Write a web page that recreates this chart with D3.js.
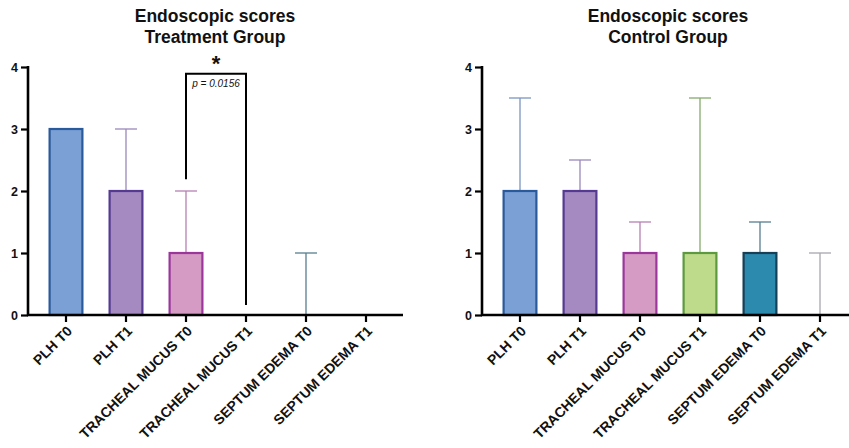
<!DOCTYPE html>
<html>
<head>
<meta charset="utf-8">
<script src="https://cdn.jsdelivr.net/npm/d3@7/dist/d3.min.js"></script>
<style>
  body { margin: 0; background: #fff; }
  text { font-family: Arial, "Liberation Sans", sans-serif; }
</style>
</head>
<body>
<div id="chart"></div>
<script>
// Categories shared by both panels
const categories = ["PLH T0", "PLH T1", "TRACHEAL MUCUS T0", "TRACHEAL MUCUS T1", "SEPTUM EDEMA T0", "SEPTUM EDEMA T1"];
const yTicks = [0, 1, 2, 3, 4];

// Median bar heights and upper error limits
const treatmentValues = [3, 2, 1, 0, 0, 0];
const treatmentUpper = [3, 3, 2, 0, 1, 0];
const controlValues = [2, 2, 1, 1, 1, 0];
const controlUpper = [3.5, 2.5, 1.5, 3.5, 1.5, 1];

// Significance bracket (treatment panel)
const bracket = { from: 2, to: 3, top: 3.89, leftEnd: 2.19, rightEnd: 0.16, label: "p = 0.0156", star: "*" };

// Colours
const fills = ["#7ba0d5", "#a48ac1", "#d59bc5", "#bddb8a", "#2c8aae", "#cccccc"];
const strokes = ["#2b5a9b", "#553a92", "#9b379b", "#5d9a3f", "#173f56", "#999999"];
const errColors = ["#7b95c2", "#9a88bc", "#b77fb4", "#86ab6c", "#557f90", "#a8a8ae"];

const W = 849, H = 448;
const svg = d3.select("#chart").append("svg").attr("width", W).attr("height", H);

function panel(opts) {
  const g = svg.append("g");
  const y = d3.scaleLinear().domain([0, 4]).range([315, 67]);
  const x = d3.scaleBand().domain(categories)
    .range([opts.axisX + 8, opts.axisX + 368]).paddingInner(0.42).paddingOuter(0.21);

  // Title
  g.selectAll(".title").data(opts.title).enter().append("text")
    .attr("x", opts.titleX).attr("y", (d, i) => 22 + i * 21)
    .attr("text-anchor", "middle").attr("font-size", 17.5).attr("font-weight", "bold")
    .attr("fill", "#111").text(d => d);

  // Error bars
  const err = g.selectAll(".err").data(categories).enter().append("g");
  err.filter((d, i) => opts.upper[i] > opts.values[i]).each(function (d) {
    const i = categories.indexOf(d);
    const cx = x(d) + x.bandwidth() / 2;
    const sel = d3.select(this);
    sel.append("line").attr("x1", cx).attr("x2", cx)
      .attr("y1", y(opts.values[i])).attr("y2", y(opts.upper[i]))
      .attr("stroke", errColors[i]).attr("stroke-width", 1.3);
    sel.append("line").attr("x1", cx - 11).attr("x2", cx + 11)
      .attr("y1", y(opts.upper[i])).attr("y2", y(opts.upper[i]))
      .attr("stroke", errColors[i]).attr("stroke-width", 1.3);
  });

  // Bars
  g.selectAll(".bar").data(categories).enter()
    .filter((d, i) => opts.values[i] > 0)
    .append("rect")
    .attr("x", d => x(d) + 1)
    .attr("width", x.bandwidth() - 2)
    .attr("y", d => y(opts.values[categories.indexOf(d)]))
    .attr("height", d => y(0) - y(opts.values[categories.indexOf(d)]))
    .attr("fill", d => fills[categories.indexOf(d)])
    .attr("stroke", d => strokes[categories.indexOf(d)])
    .attr("stroke-width", 2.2);

  // Y axis
  const yAxis = g.append("g").attr("transform", `translate(${opts.axisX},0)`)
    .call(d3.axisLeft(y).tickValues(yTicks).tickSize(7).tickPadding(3).tickFormat(d3.format("d")));
  yAxis.select(".domain").attr("stroke", "#000").attr("stroke-width", 2.6)
    .attr("d", `M0,${y(4) - 1}V${y(0) + 1}`);
  yAxis.selectAll(".tick line").attr("stroke", "#000").attr("stroke-width", 2.2);
  yAxis.selectAll(".tick text").attr("font-size", 12.5).attr("font-weight", "bold")
    .attr("font-family", "Arial, 'Liberation Sans', sans-serif").attr("fill", "#111");

  // X axis
  const xAxis = g.append("g").attr("transform", `translate(0,${y(0)})`)
    .call(d3.axisBottom(x).tickSize(7).tickSizeOuter(0));
  xAxis.select(".domain").attr("stroke", "#000").attr("stroke-width", 2.6)
    .attr("d", `M${opts.axisX - 1},0H${opts.axisEnd}`);
  xAxis.selectAll(".tick line").attr("stroke", "#000").attr("stroke-width", 2.2);
  xAxis.selectAll(".tick text")
    .attr("font-size", 14).attr("font-weight", "bold")
    .attr("font-family", "Arial, 'Liberation Sans', sans-serif").attr("fill", "#111")
    .attr("text-anchor", "end").attr("dy", 0).attr("y", 0)
    .attr("transform", "translate(7,17) rotate(-45)");

  // Significance bracket
  if (opts.bracket) {
    const b = opts.bracket;
    const x1 = x(categories[b.from]) + x.bandwidth() / 2;
    const x2 = x(categories[b.to]) + x.bandwidth() / 2;
    g.append("path")
      .attr("d", `M${x1},${y(b.leftEnd)}V${y(b.top)}H${x2}V${y(b.rightEnd)}`)
      .attr("fill", "none").attr("stroke", "#000").attr("stroke-width", 2);
    g.append("text").attr("x", (x1 + x2) / 2).attr("y", y(b.top) - 3)
      .attr("text-anchor", "middle").attr("font-size", 22).attr("font-weight", "bold")
      .attr("fill", "#111").text(b.star);
    g.append("text").attr("x", (x1 + x2) / 2).attr("y", y(b.top) + 13)
      .attr("text-anchor", "middle").attr("font-size", 10).attr("font-style", "italic")
      .attr("fill", "#111").text(b.label);
  }
}

panel({ axisX: 28, axisEnd: 403, titleX: 215, title: ["Endoscopic scores", "Treatment Group"],
  values: treatmentValues, upper: treatmentUpper, bracket: bracket });
panel({ axisX: 482, axisEnd: 849, titleX: 668, title: ["Endoscopic scores", "Control Group"],
  values: controlValues, upper: controlUpper });
</script>
</body>
</html>
